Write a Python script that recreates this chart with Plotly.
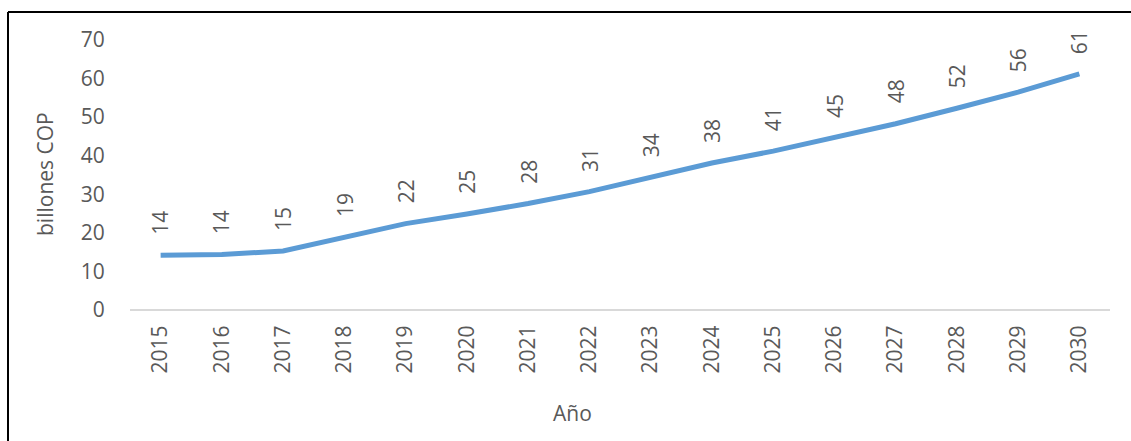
import plotly.graph_objects as go

years = [str(y) for y in range(2015, 2031)]
values = [14.2, 14.4, 15.3, 19.0, 22.4, 24.9, 27.6, 30.7, 34.3, 38.1, 41.2, 44.7, 48.3, 52.3, 56.5, 61.2]
labels = [str(round(v)) for v in values]
y_ticks = [0, 10, 20, 30, 40, 50, 60, 70]

W, H = 1131, 441
L, R, T, B = 130, 21, 40, 131
pw, ph = W - L - R, H - T - B

def px_x(x):
    return (x - L) / pw

def px_y(y):
    return (H - B - y) / ph

FONT = "Open Sans"
GRAY = "#595959"
FS = 21

fig = go.Figure()
fig.add_trace(go.Scatter(
    x=years, y=values, mode="lines",
    line=dict(color="#5B9BD5", width=5),
    hoverinfo="skip", showlegend=False,
))

annotations = []
for i, (v, lab) in enumerate(zip(values, labels)):
    annotations.append(dict(
        x=i, y=v, xref="x", yref="y", text=lab, showarrow=False,
        textangle=-90, yanchor="bottom", xanchor="center", yshift=18,
        font=dict(family=FONT, size=FS, color=GRAY),
    ))
annotations.append(dict(
    x=px_x(572), y=px_y(413), xref="paper", yref="paper", text="Año",
    showarrow=False, xanchor="center", yanchor="middle",
    font=dict(family=FONT, size=FS, color=GRAY),
))
annotations.append(dict(
    x=px_x(45), y=px_y(174), xref="paper", yref="paper", text="billones COP",
    showarrow=False, xanchor="center", yanchor="middle", textangle=-90,
    font=dict(family=FONT, size=FS, color=GRAY),
))

shapes = [
    dict(type="line", xref="paper", yref="paper",
         x0=px_x(8), y0=px_y(12), x1=px_x(1135), y1=px_y(12),
         line=dict(color="black", width=2)),
    dict(type="line", xref="paper", yref="paper",
         x0=px_x(8), y0=px_y(12), x1=px_x(8), y1=px_y(445),
         line=dict(color="black", width=2)),
]

fig.update_layout(
    width=W, height=H,
    margin=dict(l=L, r=R, t=T, b=B),
    paper_bgcolor="white", plot_bgcolor="white",
    annotations=annotations, shapes=shapes,
    xaxis=dict(
        type="category", range=[-0.5, len(years) - 0.5],
        showgrid=False, zeroline=False,
        showline=False,
        tickangle=-90, ticks="outside", ticklen=6, tickcolor="rgba(0,0,0,0)",
        tickfont=dict(family=FONT, size=FS, color=GRAY),
    ),
    yaxis=dict(
        range=[0, 70], tickvals=y_ticks, ticktext=[str(t) for t in y_ticks],
        showgrid=False, zeroline=True, zerolinecolor="#D9D9D9", zerolinewidth=2,
        showline=False,
        ticks="outside", ticklen=20, tickcolor="rgba(0,0,0,0)",
        tickfont=dict(family=FONT, size=FS, color=GRAY),
    ),
)

fig.write_html("out.html")
